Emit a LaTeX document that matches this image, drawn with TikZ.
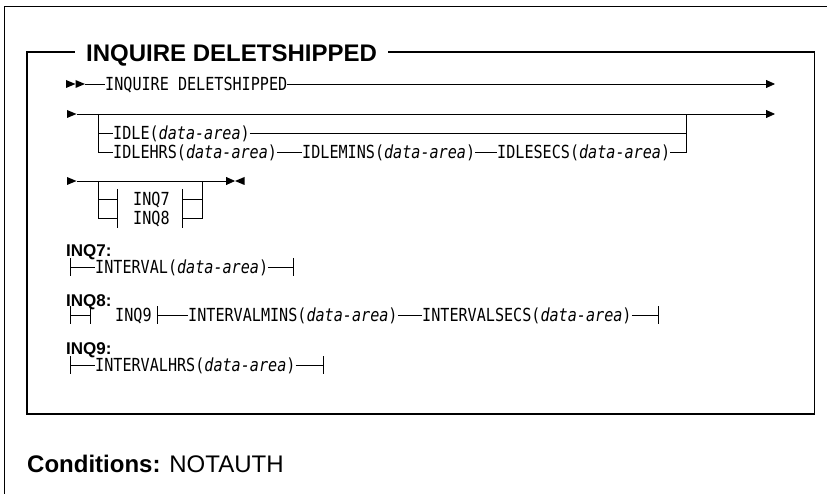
\documentclass[tikz,border=0pt]{standalone}
\usepackage{fontspec}
\setmainfont{Liberation Sans}
\newfontfamily\rrfont[FakeStretch=0.84]{DejaVu Sans Mono}
\usetikzlibrary{arrows.meta}
\newcommand\myrtri[1]{\fill (#1) -- ++(-9.5,-4) -- ++(0,8) -- cycle;}
\newcommand\myltri[1]{\fill (#1) -- ++(9.5,-4) -- ++(0,8) -- cycle;}
\newcommand\mybar[1]{\draw[ln] ([yshift=9pt]#1) -- ([yshift=-9pt]#1);}
\begin{document}
\begin{tikzpicture}[x=1pt,y=-1pt,
  rr/.style={font=\rrfont\fontsize{18}{18}\selectfont, inner sep=0pt, anchor=west, text height=13.1pt, text depth=0pt},
  hd/.style={font=\bfseries\fontsize{17}{17}\selectfont, inner sep=0pt, anchor=base west},
  ln/.style={line width=0.8pt},
  tip/.style={-{Triangle[length=9pt,width=8pt]}},
  frame/.style={line width=1.3pt}]
\useasboundingbox (0,0) rectangle (827,494);
% frames
\draw[frame] (4.5,494) -- (4.5,6.5) -- (827,6.5);
\draw[frame] (27,52) rectangle (814.5,414);
\node[fill=white, inner xsep=11pt, inner ysep=2pt, font=\bfseries\fontsize{24}{24}\selectfont, anchor=base west] (title) at (75,61.7) {INQUIRE DELETSHIPPED};
\node[anchor=base west, inner sep=0pt, font=\fontsize{24}{24}\selectfont] (cond) at (27,472) {\textbf{Conditions:} NOTAUTH};
% row 1
\myrtri{75.5,84}
\myrtri{85,84}
\coordinate (r1a) at (85,84);
\node[rr] (t1) at (105,84) {INQUIRE DELETSHIPPED};
\coordinate (r1e) at (775,84);
\draw[ln] (r1a) -- (t1.west);
\draw[ln,tip] (t1.east) -- (r1e);
% row 2
\myrtri{76.5,114}
\coordinate (r2a) at (76.5,114);
\coordinate (r2e) at (775,114);
\draw[ln,tip] (r2a) -- (r2e);
\coordinate (j2l) at (98,114);
\coordinate (j2r) at (686,114);
\node[rr] (idle) at (113,133) {IDLE(\textit{data-area})};
\node[rr] (ihrs) at (113,152) {IDLEHRS(\textit{data-area})};
\node[rr] (imins) at (302,152) {IDLEMINS(\textit{data-area})};
\node[rr] (isecs) at (497,152) {IDLESECS(\textit{data-area})};
\draw[ln] (j2l) |- (ihrs.west);
\draw[ln] (j2l |- idle.west) -- (idle.west);
\draw[ln] (idle.east) -- (j2r |- idle.east);
\draw[ln] (ihrs.east) -- (imins.west);
\draw[ln] (imins.east) -- (isecs.west);
\draw[ln] (isecs.east) -| (j2r);
% row 3
\myrtri{76.5,181}
\coordinate (r3a) at (76.5,181);
\coordinate (r3e) at (235,181);
\draw[ln,tip] (r3a) -- (r3e);
\myltri{235,181}
\coordinate (j3l) at (98,181);
\coordinate (j3r) at (202,181);
\node[rr] (q7) at (133,199) {INQ7};
\node[rr] (q8) at (133,218) {INQ8};
\coordinate (b7l) at (117,199);
\coordinate (b8l) at (117,218);
\coordinate (b7r) at (182,199);
\coordinate (b8r) at (182,218);
\draw[ln] (j3l) |- (b8l);
\draw[ln] (j3l |- b7l) -- (b7l);
\draw[ln] ([yshift=10pt]b7l) -- ([yshift=-10pt]b8l);
\draw[ln] ([yshift=10pt]b7r) -- ([yshift=-10pt]b8r);
\draw[ln] (b7r) -- (j3r |- b7r);
\draw[ln] (b8r) -| (j3r);
% INQ7
\node[hd] (h7) at (66,257) {INQ7:};
\coordinate (a7) at (70,267);
\node[rr] (iv) at (95,267) {INTERVAL(\textit{data-area})};
\coordinate (z7) at (293,267);
\mybar{a7}
\draw[ln] (a7) -- (iv.west);
\draw[ln] (iv.east) -- (z7);
\mybar{z7}
% INQ8
\node[hd] (h8) at (66,306) {INQ8:};
\coordinate (a8) at (70,315);
\coordinate (c8) at (90,315);
\node[rr] (q9) at (115,315) {INQ9};
\coordinate (d8) at (157,315);
\node[rr] (ivm) at (188,315) {INTERVALMINS(\textit{data-area})};
\node[rr] (ivs) at (422,315) {INTERVALSECS(\textit{data-area})};
\coordinate (z8) at (658,315);
\mybar{a8}
\mybar{c8}
\mybar{d8}
\mybar{z8}
\draw[ln] (a8) -- (c8);
\draw[ln] (d8) -- (ivm.west);
\draw[ln] (ivm.east) -- (ivs.west);
\draw[ln] (ivs.east) -- (z8);
% INQ9
\node[hd] (h9) at (66,354) {INQ9:};
\coordinate (a9) at (70,365);
\node[rr] (ivh) at (95,365) {INTERVALHRS(\textit{data-area})};
\coordinate (z9) at (323,365);
\mybar{a9}
\draw[ln] (a9) -- (ivh.west);
\draw[ln] (ivh.east) -- (z9);
\mybar{z9}
\end{tikzpicture}
\end{document}
